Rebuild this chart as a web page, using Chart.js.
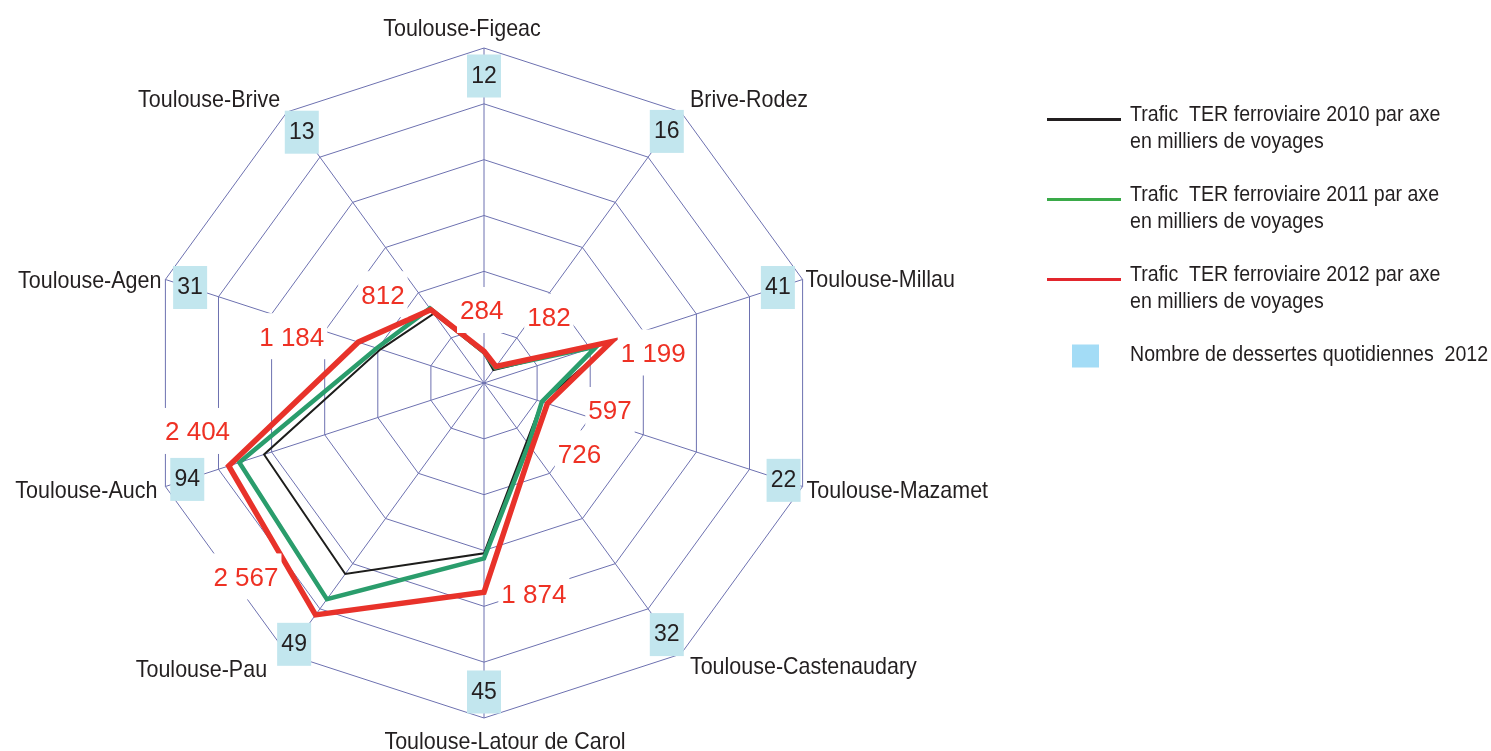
<!DOCTYPE html>
<html lang="fr">
<head>
<meta charset="utf-8">
<title>Trafic TER ferroviaire par axe</title>
<script src="https://cdn.jsdelivr.net/npm/chart.js@4.4.1/dist/chart.umd.min.js"></script>
<style>
  html, body { margin: 0; padding: 0; background: #fff; }
  canvas { display: block; }
</style>
</head>
<body>
<canvas id="radar" width="1491" height="751"></canvas>
<script>
// axes du graphique, dans le sens horaire depuis le haut
const axes = [
  'Toulouse-Figeac', 'Brive-Rodez', 'Toulouse-Millau', 'Toulouse-Mazamet',
  'Toulouse-Castenaudary', 'Toulouse-Latour de Carol', 'Toulouse-Pau',
  'Toulouse-Auch', 'Toulouse-Agen', 'Toulouse-Brive'
];

// trafic en milliers de voyages
const trafic2010 = [265, 143, 1225, 545, 650, 1525, 2114, 2071, 975, 768];
const trafic2011 = [275, 170, 1060, 545, 680, 1570, 2394, 2304, 1010, 825];
const trafic2012 = [284, 182, 1199, 597, 726, 1874, 2567, 2404, 1184, 812];

// nombre de dessertes quotidiennes 2012
const dessertes2012 = [12, 16, 41, 22, 32, 45, 49, 94, 31, 13];

const scaleMax = 3000;
const scaleStep = 500;

// --- mise en page des textes (hors données) ---
// étiquettes rouges : [index d'axe fractionnaire, distance en milliers de voyages]
const valueLabelSpots = [
  [-0.05, 654], [1.233, 831], [2.216, 1540], [2.836, 1154], [3.511, 1062],
  [4.631, 1943], [6.414, 2747], [7.236, 2601], [7.88, 1772], [8.647, 1205]
];
// noms d'axes : décalage (px) depuis le sommet extérieur + alignement
const axisNameNudge = [
  [-22, -21, 'center'], [9, -14, 'left'], [3, -1, 'left'], [4, 3, 'left'],
  [9, 11, 'left'], [21, 22, 'center'], [-20, 14, 'right'], [-8, 3, 'right'],
  [-4, 0, 'right'], [-7, -14, 'right']
];
// cases bleues : rayon commun (px) + petit décalage radial
const boxRadius = 310;
const boxShift = [-3, 1, -1, 5, 1, -1, 13, 2, -1, 0];

const legendRows = [
  { kind: 'line', color: '#231f20', text: ['Trafic  TER ferroviaire 2010 par axe', 'en milliers de voyages'] },
  { kind: 'line', color: '#3aaa49', text: ['Trafic  TER ferroviaire 2011 par axe', 'en milliers de voyages'] },
  { kind: 'line', color: '#e2262d', text: ['Trafic  TER ferroviaire 2012 par axe', 'en milliers de voyages'] },
  { kind: 'box', color: '#a3dcf6', text: ['Nombre de dessertes quotidiennes  2012'] }
];

const FONT = '"Liberation Sans", Arial, sans-serif';

function frNumber(v) {
  if (v < 1000) return String(v);
  return Math.floor(v / 1000) + ' ' + String(v % 1000).padStart(3, '0');
}

// texte condensé (police étroite)
function narrowText(ctx, text, x, y, squeeze, align) {
  const w = ctx.measureText(text).width * squeeze;
  if (align === 'center') x -= w / 2;
  else if (align === 'right') x -= w;
  ctx.save();
  ctx.translate(x, y);
  ctx.scale(squeeze, 1);
  ctx.textAlign = 'left';
  ctx.fillText(text, 0, 0);
  ctx.restore();
}

const axisNames = {
  id: 'axisNames',
  afterDraw(chart) {
    const r = chart.scales.r;
    const ctx = chart.ctx;
    ctx.save();
    ctx.font = '24px ' + FONT;
    ctx.fillStyle = '#231f20';
    ctx.textBaseline = 'alphabetic';
    axes.forEach((name, i) => {
      const p = r.getPointPosition(i, r.drawingArea);
      const [dx, dy, align] = axisNameNudge[i];
      narrowText(ctx, name, p.x + dx, p.y + dy + 24 * 0.358, 0.895, align);
    });
    ctx.restore();
  }
};

const dessertesBoxes = {
  id: 'dessertesBoxes',
  afterDatasetsDraw(chart) {
    const r = chart.scales.r;
    const ctx = chart.ctx;
    ctx.save();
    ctx.font = '23px ' + FONT;
    ctx.textAlign = 'center';
    ctx.textBaseline = 'alphabetic';
    dessertes2012.forEach((n, i) => {
      const p = r.getPointPosition(i, boxRadius + boxShift[i]);
      ctx.fillStyle = '#c2e6ee';
      ctx.fillRect(p.x - 17, p.y - 21.5, 34, 43);
      ctx.fillStyle = '#231f20';
      ctx.fillText(String(n), p.x, p.y - 1.5 + 23 * 0.358);
    });
    ctx.restore();
  }
};

const valueLabels = {
  id: 'valueLabels',
  afterDatasetsDraw(chart) {
    const r = chart.scales.r;
    const ctx = chart.ctx;
    ctx.save();
    ctx.font = '26px ' + FONT;
    ctx.textAlign = 'center';
    ctx.textBaseline = 'alphabetic';
    trafic2012.forEach((v, i) => {
      const [idx, dist] = valueLabelSpots[i];
      const p = r.getPointPosition(idx, r.getDistanceFromCenterForValue(dist));
      const text = frNumber(v);
      const w = ctx.measureText(text).width;
      ctx.fillStyle = '#ffffff';
      ctx.fillRect(p.x - w / 2 - 3, p.y - 23, w + 6, 46);
      ctx.fillStyle = '#ee3124';
      ctx.fillText(text, p.x, p.y + 26 * 0.358);
    });
    ctx.restore();
  }
};

const sideLegend = {
  id: 'sideLegend',
  afterDraw(chart) {
    const ctx = chart.ctx;
    ctx.save();
    ctx.font = '22px ' + FONT;
    ctx.fillStyle = '#231f20';
    ctx.textBaseline = 'alphabetic';
    legendRows.forEach((row, k) => {
      const base = 120.5 + k * 80;
      if (row.kind === 'line') {
        ctx.strokeStyle = row.color;
        ctx.lineWidth = 3;
        ctx.beginPath();
        ctx.moveTo(1047, base - 1);
        ctx.lineTo(1121, base - 1);
        ctx.stroke();
      } else {
        ctx.fillStyle = row.color;
        ctx.fillRect(1072, base - 16, 27, 23);
      }
      ctx.fillStyle = '#231f20';
      row.text.forEach((t, j) => narrowText(ctx, t, 1130, base + j * 27.5, 0.89, 'left'));
    });
    ctx.restore();
  }
};

const gridBlue = '#6d71b0';

new Chart(document.getElementById('radar'), {
  type: 'radar',
  data: {
    labels: axes,
    datasets: [
      { label: '2012', data: trafic2012, borderColor: '#e8322a', borderWidth: 5.5, order: 1 },
      { label: '2011', data: trafic2011, borderColor: '#2a9d6c', borderWidth: 4.5, order: 2 },
      { label: '2010', data: trafic2010, borderColor: '#1d1d1b', borderWidth: 2, order: 3 }
    ]
  },
  options: {
    responsive: false,
    animation: false,
    devicePixelRatio: 1,
    layout: { padding: { left: 149, right: 672, top: 48, bottom: 33 } },
    elements: {
      point: { radius: 0, hoverRadius: 0 },
      line: { tension: 0, fill: false, borderJoinStyle: 'miter' }
    },
    plugins: {
      legend: { display: false },
      tooltip: { enabled: false }
    },
    scales: {
      r: {
        min: 0,
        max: scaleMax,
        startAngle: 0,
        ticks: { display: false, stepSize: scaleStep },
        grid: { color: gridBlue, lineWidth: 1 },
        angleLines: { color: gridBlue, lineWidth: 1 },
        pointLabels: { display: false }
      }
    }
  },
  plugins: [dessertesBoxes, valueLabels, axisNames, sideLegend]
});
</script>
</body>
</html>
